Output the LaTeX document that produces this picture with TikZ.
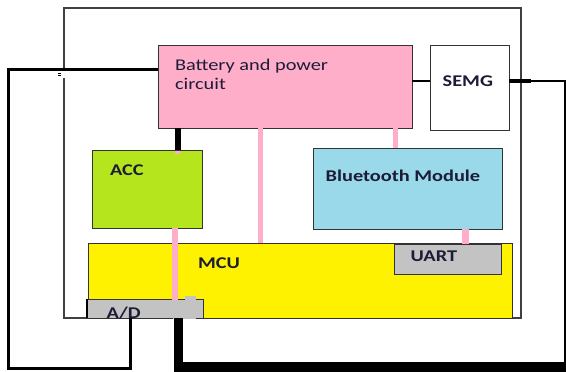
\documentclass[tikz,border=0pt]{standalone}
\usepackage{fontspec}
\setmainfont{Carlito}[FakeStretch=1.24]
\definecolor{rose}{RGB}{255,174,201}
\definecolor{limeg}{RGB}{181,230,29}
\definecolor{turq}{RGB}{153,217,234}
\definecolor{yel}{RGB}{255,242,0}
\definecolor{lgray}{RGB}{195,195,195}
\definecolor{txt}{RGB}{28,28,55}
\begin{document}
\begin{tikzpicture}[x=1pt,y=-1pt,
  box/.style={draw=black!80, line width=1pt, inner sep=0pt, outer sep=0pt, anchor=north west},
  lbl/.style={anchor=base west, inner sep=0pt, outer sep=0pt, text=txt,
              font=\fontsize{16.4}{18.6}\selectfont\bfseries},
  rlbl/.style={lbl, font=\fontsize{16.4}{18.6}\selectfont},
  pinkline/.style={draw=rose, line width=5pt},
  wire/.style={draw=black, line width=2pt, line join=miter},
]
\useasboundingbox (0,0) rectangle (566,372);
\fill[white] (0,0) rectangle (566,372);

% outer frame
\draw[black!75, line width=1.2pt] (64,70) -- (64,8) -- (521,8) -- (521,318) -- (64,318) -- (64,78);
\fill[black] (58,72.6) rectangle (61,73.6);
\fill[black] (58,75.2) rectangle (61,76.2);

% boxes
\node[box, fill=rose, minimum width=254, minimum height=83] (bat) at (158,45) {};
\node[box, fill=white, minimum width=79, minimum height=85] (semg) at (430,45) {};
\node[box, fill=limeg, minimum width=110, minimum height=78] (acc) at (92,150) {};
\node[box, fill=turq, minimum width=189, minimum height=81] (bt) at (313,148) {};
\node[box, fill=yel, minimum width=424, minimum height=75] (mcu) at (88,243) {};
\node[box, fill=lgray, minimum width=107, minimum height=30] (uart) at (394,244) {};
\node[box, fill=lgray, minimum width=116, minimum height=19] (ad) at (87,299) {};
\draw[black, line width=2pt] (ad.north west) -- (ad.south west);
\fill[lgray] (173,299.6) rectangle (196,318.8);
\fill[lgray] (185,295.7) rectangle (196,300);

% labels
\node[rlbl] (battxt1) at (175,70.7) {Battery and power};
\node[rlbl] (battxt2) at (175,89.3) {circuit};
\node[lbl] (semgtxt) at (442.7,86) {SEMG};
\node[lbl] (acctxt) at (110,175.7) {ACC};
\node[lbl] (bttxt) at (325.7,181) {Bluetooth Module};
\node[lbl] (mcutxt) at (198,268.3) {MCU};
\node[lbl] (uarttxt) at (410.7,261.7) {UART};
\begin{scope}
  \clip (ad.north west) rectangle (ad.south east);
  \node[lbl] (adtxt) at (106.7,318.3) {A/D};
\end{scope}

% pink connectors
\draw[pinkline] (260,0 |- bat.south) -- (260,0 |- mcu.north);
\draw[pinkline] (395,0 |- bat.south) -- (395,0 |- bt.north);
\draw[pinkline, line width=7pt] (465,0 |- bt.south) -- (465,0 |- uart.north);
\draw[pinkline, line width=6pt] (174.5,0 |- acc.south) -- (174.5,299.6);
\draw[black, line width=6pt] (177.5,0 |- bat.south) -- (177.5,0 |- acc.north);
\fill[rose] (175,150.5) rectangle (180,153.5);

% black wires
\draw[wire] (bat.east |- 0,81) -- (semg.west |- 0,81);
\coordinate (rc) at (565,81);
\coordinate (br) at (565,364);
\draw[wire] (semg.east |- 0,81) -- (rc) -- (br);
\draw[black, line width=3.5pt] (semg.east |- 0,81) -- (530.5,81);
\coordinate (bl) at (178.5,367);
\coordinate (be) at (567,367);
\draw[black, line width=9.5pt, line join=miter] (178.5,0 |- ad.south) -- (bl) -- (be);
\coordinate (l1) at (8.5,69.3);
\coordinate (l2) at (8.5,368);
\coordinate (l3) at (130.5,368);
\draw[black, line width=3pt, line join=miter] (bat.west |- l1) -- (l1) -- (l2) -- (l3) -- (130.5,0 |- ad.south);
\end{tikzpicture}
\end{document}
